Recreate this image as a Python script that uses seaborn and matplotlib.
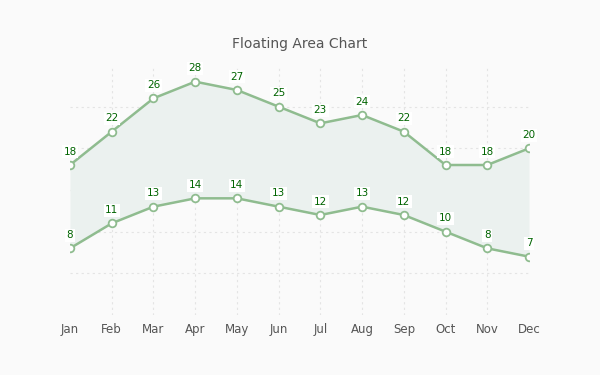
import matplotlib
matplotlib.use("Agg")
import matplotlib.pyplot as plt
import seaborn as sns
import pandas as pd

months = ["Jan", "Feb", "Mar", "Apr", "May", "Jun", "Jul", "Aug", "Sep", "Oct", "Nov", "Dec"]
upper = [18, 22, 26, 28, 27, 25, 23, 24, 22, 18, 18, 20]
lower = [8, 11, 13, 14, 14, 13, 12, 13, 12, 10, 8, 7]
grid_y = [5, 10, 15, 20, 25]

sns.set_theme(style="white")
plt.rcParams['font.family'] = ['DejaVu Sans']

bg = "#fafafa"
line_c = "#8fbc8f"
fill_c = "#ebf1ef"
lab_c = "#006400"
grid_c = "#e4e4e4"

fig = plt.figure(figsize=(6, 3.75), dpi=100, facecolor=bg)
ax = fig.add_axes([70/600, 1-315/375, (529-70)/600, (315-65)/375])
ax.set_facecolor(bg)

x = list(range(len(months)))
df = pd.DataFrame({"x": x + x, "v": upper + lower, "s": ["upper"]*12 + ["lower"]*12})

ax.fill_between(x, lower, upper, color=fill_c, zorder=1, linewidth=0)

for gy in grid_y:
    ax.axhline(gy, color=grid_c, linestyle=(0, (2, 3)), linewidth=0.8, zorder=0.5)
for gx in x[1:-1]:
    ax.axvline(gx, color=grid_c, linestyle=(0, (2, 3)), linewidth=0.8, zorder=0.5)

sns.lineplot(data=df, x="x", y="v", units="s", estimator=None, color=line_c, linewidth=1.8,
             marker="o", markersize=5.5, markerfacecolor="white", markeredgecolor=line_c,
             markeredgewidth=1.3, ax=ax, zorder=3, legend=False)

for series in (upper, lower):
    for xi, v in zip(x, series):
        ax.annotate(str(v), (xi, v), xytext=(0, 9.5), textcoords="offset points",
                    ha="center", va="center", fontsize=7.5, color=lab_c, zorder=4,
                    bbox=dict(boxstyle="square,pad=0.15", fc="white", ec="none"))

ax.set_xlim(0, 11)
ax.set_ylim(0, 30)
ax.set_xticks(x)
ax.set_xticklabels(months)
ax.set_yticks([])
ax.grid(False)
ax.tick_params(axis="x", length=0, pad=6, labelsize=8.5, labelcolor="#555555")
ax.set_xlabel("")
ax.set_ylabel("")
for sp in ax.spines.values():
    sp.set_visible(False)

fig.text(0.5, 1-44/375, "Floating Area Chart", ha="center", va="center", fontsize=10, color="#555555")

fig.savefig("out.png", dpi=100, facecolor=bg)
